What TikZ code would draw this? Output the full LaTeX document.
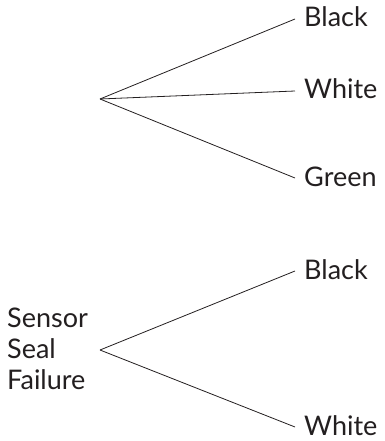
\documentclass[tikz,border=0pt]{standalone}
\usepackage{fontspec}
\setmainfont{Lato}
\usepackage{tikz}
\definecolor{inkgray}{RGB}{35,31,32}

\begin{document}
\begin{tikzpicture}[x=1pt,y=1pt,yscale=-1,xscale=1,
  branch/.style={draw=inkgray,line width=0.8pt},
  leaf/.style={anchor=west,inner xsep=9pt,inner ysep=0pt,text height=16pt,text depth=0pt,text=inkgray,font=\fontsize{27}{30}\selectfont},
  cause/.style={anchor=west,inner sep=0pt,align=left,text=inkgray,font=\fontsize{27}{31}\selectfont}]
\path[use as bounding box] (0,0) rectangle (384,441);

%Top tree
\coordinate (rootA) at (100,99);
% Text Node
\node[leaf] (blackA) at (295,19) {Black};
% Text Node
\node[leaf] (whiteA) at (295,91) {White};
% Text Node
\node[leaf] (greenA) at (295,178) {Green};
\draw[branch] (rootA) -- (blackA.west);
\draw[branch] (rootA) -- (whiteA.west);
\draw[branch] (rootA) -- (greenA.west);

%Bottom tree
\coordinate (rootB) at (100,350);
% Text Node
\node[cause] (seal) at (7,349) {Sensor\\Seal\\Failure};
% Text Node
\node[leaf] (blackB) at (295,271) {Black};
% Text Node
\node[leaf] (whiteB) at (295,427) {White};
\draw[branch] (rootB) -- (blackB.west);
\draw[branch] (rootB) -- (whiteB.west);
\end{tikzpicture}
\end{document}
